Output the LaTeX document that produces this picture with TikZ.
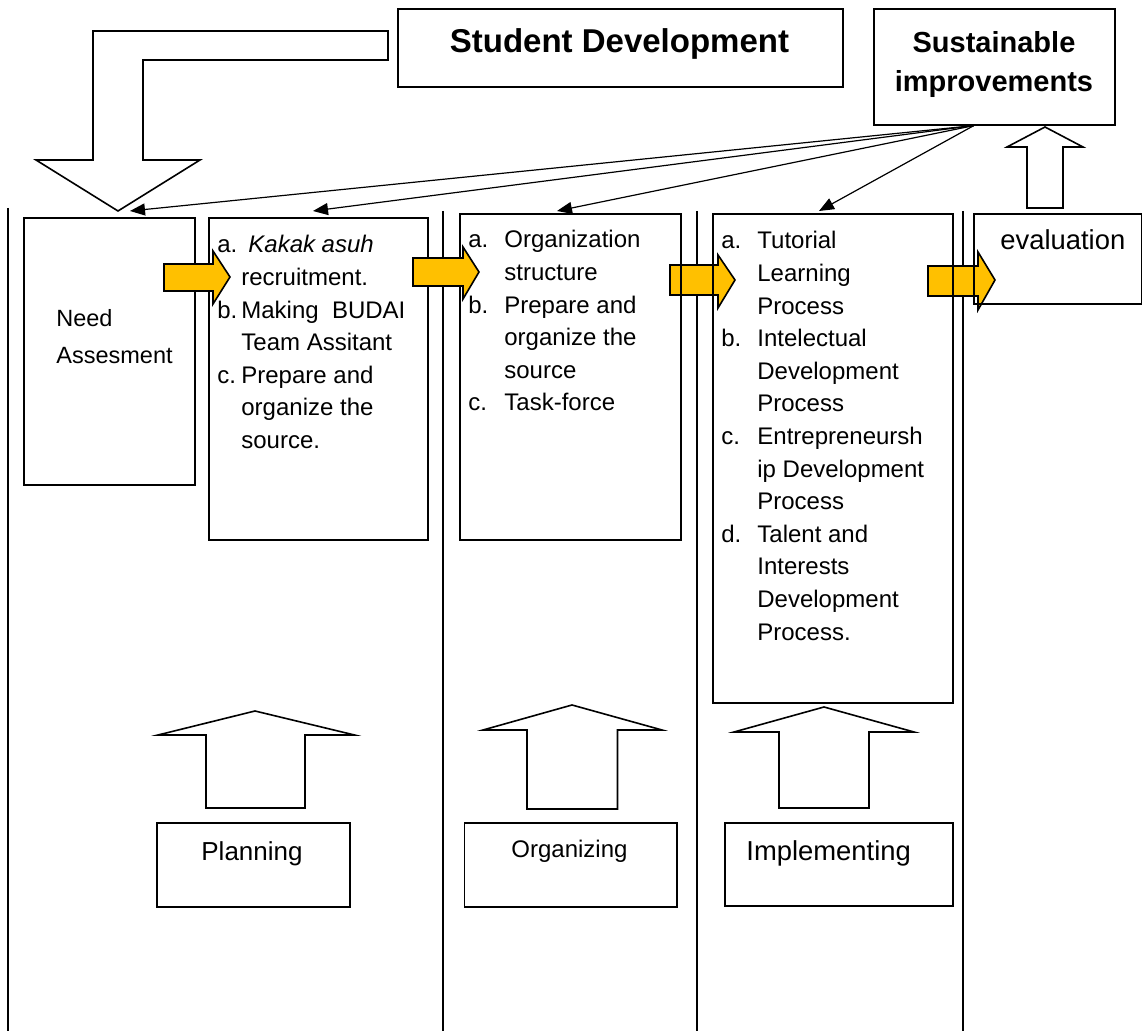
\documentclass[tikz,border=0pt]{standalone}
\usepackage{fontspec}
\setmainfont{Liberation Sans}
\usetikzlibrary{arrows.meta,calc}
\definecolor{amber}{HTML}{FFC000}
\begin{document}
\begin{tikzpicture}[x=0.5pt,y=-0.5pt,
  box/.style={draw,line width=0.8pt,inner sep=0pt,anchor=north west},
  lane/.style={line width=0.7pt},
  hollow/.style={draw,line width=0.8pt,fill=white,line join=miter},
  yarrow/.style={draw,line width=0.8pt,fill=amber,line join=miter},
  conn/.style={line width=0.6pt,-{Triangle[length=7.5pt,width=6pt]}},
  txt/.style={inner sep=0pt,font=\fontsize{12}{16.3}\selectfont},
  bigtxt/.style={inner sep=0pt,font=\fontsize{13.7}{16.3}\selectfont}]
\useasboundingbox (0,0) rectangle (1142,1031);

% lane separators
\draw[lane] (8,208) -- (8,1031);
\draw[lane] (443,211) -- (443,1031);
\draw[lane] (697,211) -- (697,1031);
\draw[lane] (963,211) -- (963,1031);

% yellow flow arrows (3 and 4 lie under the lines)
\draw[yarrow] (670,265) -- (718,265) -- (718,255) -- (735,280) -- (718,308) -- (718,295) -- (670,295) -- cycle;
\draw[yarrow] (928,266) -- (978,266) -- (978,252) -- (995,280) -- (978,310) -- (978,296) -- (928,296) -- cycle;

% top boxes
\node[box,minimum width=222.5pt,minimum height=39pt] (sd) at (397,8) {};
\node[box,minimum width=120.5pt,minimum height=58pt] (sust) at (873,8) {};

% lane boxes
\node[box,minimum width=85.5pt,minimum height=133.5pt] (need) at (23,217) {};
\node[box,minimum width=109.5pt,minimum height=161pt] (plan) at (208,217) {};
\node[box,minimum width=110.5pt,minimum height=163pt] (org) at (459,213) {};
\node[box,minimum width=120pt,minimum height=244.5pt] (impl) at (712,213) {};
\node[box,minimum width=84pt,minimum height=45pt] (eval) at (973,213) {};

% bottom phase boxes
\node[box,minimum width=96.5pt,minimum height=42pt] (planB) at (156,822) {};
\node[box,minimum width=106.25pt,minimum height=42pt] (orgB) at (463.5,822) {};
\node[box,minimum width=114pt,minimum height=41.5pt] (implB) at (724,822) {};

% yellow flow arrows 1 and 2
\draw[yarrow] (164,264) -- (213,264) -- (213,251) -- (230,277) -- (213,304) -- (213,291) -- (164,291) -- cycle;
\draw[yarrow] (413,258) -- (463,258) -- (463,247) -- (479,272) -- (463,299) -- (463,286) -- (413,286) -- cycle;

% bent block arrow from Student Development
\draw[hollow] (93,31) -- (388,31) -- (388,60) -- (143,60) -- (143,160) -- (200,160)
  -- (118,211) -- (36,160) -- (93,160) -- cycle;

% hollow up arrows
\draw[hollow] (206,808) -- (206,735) -- (158,735) -- (255,711) -- (354.5,735) -- (305,735) -- (305,808) -- cycle;
\draw[hollow] (527,809) -- (527,730) -- (483,730) -- (572,705) -- (662,730) -- (617.5,730) -- (617.5,809) -- cycle;
\draw[hollow] (779,808) -- (779,732) -- (734,732) -- (824,707) -- (914,732) -- (869,732) -- (869,808) -- cycle;
\draw[hollow] (1027,208) -- (1027,147) -- (1007,147) -- (1045,127) -- (1083,147) -- (1063,147) -- (1063,208) -- cycle;

% connectors from Sustainable improvements
\coordinate (src) at ($(sust.south)+(-20.5,0)$);
\draw[conn] (src) -- ($(need.north west)+(107,-6)$);
\draw[conn] (src) -- ($(plan.north west)+(105,-6)$);
\draw[conn] (src) -- ($(org.north west)+(98,-2)$);
\draw[conn] (src) -- ($(impl.north west)+(107,-2)$);

% texts
\node[inner sep=0pt,anchor=base,font=\fontsize{16.5}{20}\selectfont\bfseries] (sdtxt) at (619.5,53) {Student Development};
\node[inner sep=0pt,anchor=base,font=\fontsize{14.5}{19.5}\selectfont\bfseries] (susttxt) at (994,53)
  {\begin{tabular}[t]{@{}c@{}}Sustainable\\improvements\end{tabular}};

\node[inner sep=0pt,anchor=base west,font=\fontsize{11.75}{18.5}\selectfont] (needtxt) at (56,327)
  {\begin{tabular}[t]{@{}l@{}}Need\\Assesment\end{tabular}};

\node[txt,anchor=base west] (plantxt) at (217,253)
  {\begin{tabular}[t]{@{}p{12pt}@{}l@{}}
  a. & \hspace{3.5pt}\textit{Kakak asuh}\\
     & recruitment.\\
  b. & Making\ \ BUDAI\\
     & Team Assitant\\
  c. & Prepare and\\
     & organize the\\
     & source.
  \end{tabular}};

\node[txt,anchor=base west] (orgtxt) at (468,248)
  {\begin{tabular}[t]{@{}p{18pt}@{}l@{}}
  a. & Organization\\
     & structure\\
  b. & Prepare and\\
     & organize the\\
     & source\\
  c. & Task-force
  \end{tabular}};

\node[txt,anchor=base west] (impltxt) at (721,249)
  {\begin{tabular}[t]{@{}p{18pt}@{}l@{}}
  a. & Tutorial\\
     & Learning\\
     & Process\\
  b. & Intelectual\\
     & Development\\
     & Process\\
  c. & Entrepreneursh\\
     & ip Development\\
     & Process\\
  d. & Talent and\\
     & Interests\\
     & Development\\
     & Process.
  \end{tabular}};

\node[bigtxt,anchor=base west] (evaltxt) at (1000,250) {evaluation};
\node[inner sep=0pt,anchor=base,font=\fontsize{13}{16}\selectfont] (plantitle) at (252,861) {Planning};
\node[txt,anchor=base] (orgtitle) at (569.5,858) {Organizing};
\node[bigtxt,anchor=base west] (impltitle) at (746,861) {Implementing};
\end{tikzpicture}
\end{document}
